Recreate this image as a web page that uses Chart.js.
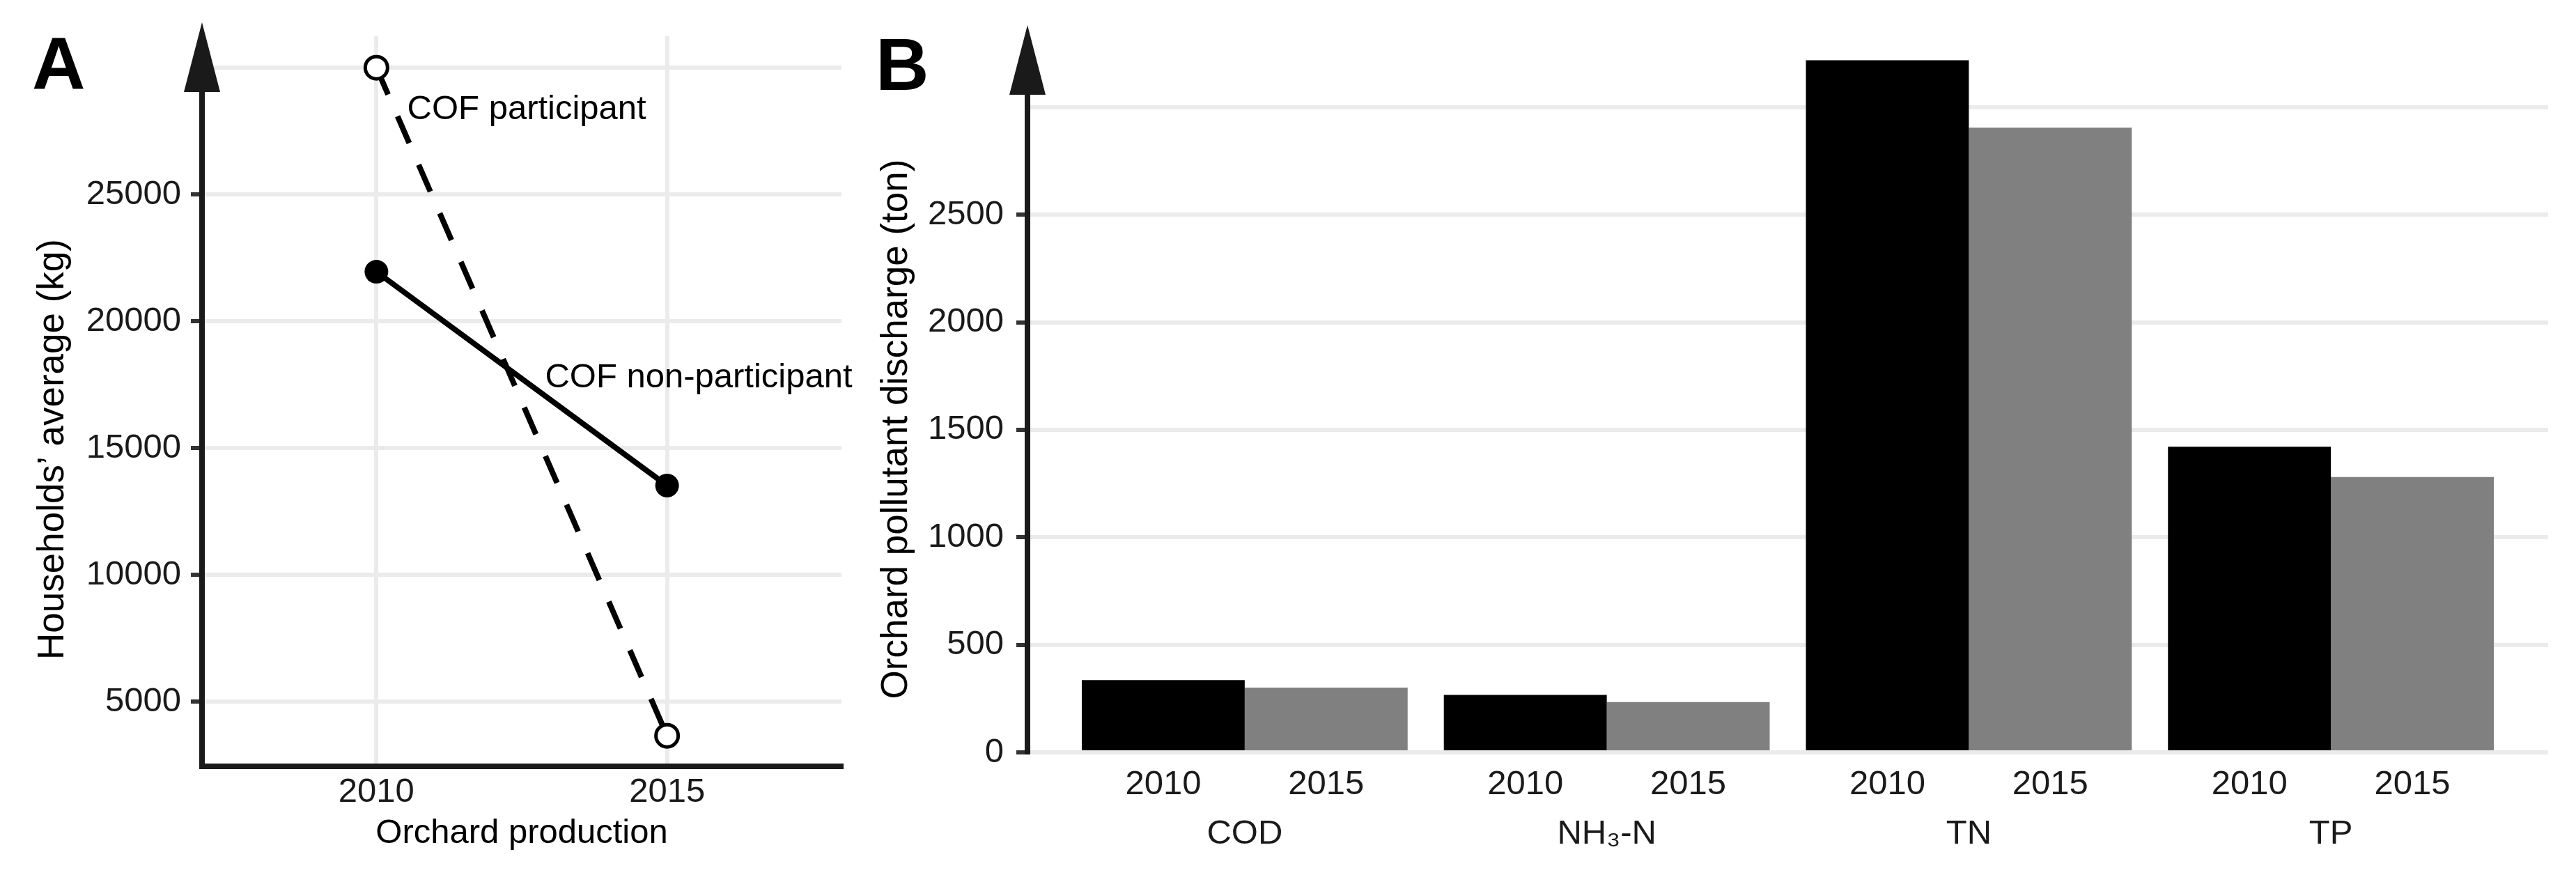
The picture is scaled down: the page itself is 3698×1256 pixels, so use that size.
<!DOCTYPE html>
<html>
<head>
<meta charset="utf-8">
<script src="https://cdn.jsdelivr.net/npm/chart.js@4.4.0/dist/chart.umd.min.js"></script>
<style>
  body { margin: 0; background: #fff; }
  #wrap { position: relative; width: 3698px; height: 1256px; background: #fff; }
  canvas { position: absolute; left: 0; top: 0; }
</style>
</head>
<body>
<div id="wrap">
  <canvas id="chartA" width="3698" height="1256"></canvas>
  <canvas id="chartB" width="3698" height="1256"></canvas>
</div>
<script>
// ---- panel A data ----
const years = [2010, 2015];
const cofParticipant = [30000, 3650];
const cofNonParticipant = [21950, 13520];
const yTicksA = [5000, 10000, 15000, 20000, 25000];
const yGridA = [5000, 10000, 15000, 20000, 25000, 30000];

// ---- panel B data ----
const pollutants = ["COD", "NH\u2083-N", "TN", "TP"];
const yearLabels = ["2010", "2015"];
const discharge2010 = [336, 267, 3218, 1421];
const discharge2015 = [301, 234, 2905, 1280];
const yTicksB = [0, 500, 1000, 1500, 2000, 2500];
const yGridB = [0, 500, 1000, 1500, 2000, 2500, 3000];

const FONT = "'Liberation Sans', Arial, Helvetica, sans-serif";
const GRID = "#ebebeb";
const INK = "#1a1a1a";

// axis line with arrow head, panel letter, rotated y title
const axisDecor = {
  id: "axisDecor",
  afterDraw(chart, args, opts) {
    const { ctx, chartArea } = chart;
    const x0 = chartArea.left;
    ctx.save();
    ctx.strokeStyle = INK;
    ctx.fillStyle = INK;
    ctx.lineWidth = 8;
    ctx.beginPath();
    ctx.moveTo(x0, chartArea.bottom + opts.below);
    ctx.lineTo(x0, opts.arrowTip + 90);
    ctx.stroke();
    ctx.beginPath();
    ctx.moveTo(x0, opts.arrowTip);
    ctx.lineTo(x0 - 26, opts.arrowTip + 100);
    ctx.lineTo(x0 + 26, opts.arrowTip + 100);
    ctx.closePath();
    ctx.fill();

    ctx.fillStyle = "#000";
    ctx.font = "bold 106px " + FONT;
    ctx.textAlign = "left";
    ctx.textBaseline = "alphabetic";
    ctx.fillText(opts.letter, opts.letterX, opts.letterY);

    ctx.translate(opts.titleX, opts.titleY);
    ctx.rotate(-Math.PI / 2);
    ctx.font = "53px " + FONT;
    ctx.textAlign = "center";
    ctx.textBaseline = "middle";
    ctx.fillText(opts.title, 0, 0);
    ctx.restore();
  }
};

// direct labels on the lines of panel A
const lineLabels = [
  { text: "COF participant", x: 2010.53, y: 28350 },
  { text: "COF non-participant", x: 2012.9, y: 17750 }
];
const lineLabelPlugin = {
  id: "lineLabelPlugin",
  afterDatasetsDraw(chart) {
    const { ctx, scales } = chart;
    ctx.save();
    ctx.font = "49px " + FONT;
    ctx.fillStyle = "#000";
    ctx.textAlign = "left";
    ctx.textBaseline = "middle";
    lineLabels.forEach(l => {
      ctx.fillText(l.text, scales.x.getPixelForValue(l.x), scales.y.getPixelForValue(l.y));
    });
    ctx.restore();
  }
};

const tickFont = { family: FONT, size: 49 };

new Chart(document.getElementById("chartA"), {
  type: "line",
  data: {
    datasets: [
      {
        label: "COF participant",
        data: years.map((yr, i) => ({ x: yr, y: cofParticipant[i] })),
        borderColor: "#000",
        borderWidth: 8,
        borderDash: [42, 34],
        pointRadius: 16,
        pointBorderWidth: 5,
        pointBackgroundColor: "#fff",
        pointBorderColor: "#000"
      },
      {
        label: "COF non-participant",
        data: years.map((yr, i) => ({ x: yr, y: cofNonParticipant[i] })),
        borderColor: "#000",
        borderWidth: 8,
        pointRadius: 17,
        pointBorderWidth: 0,
        pointBackgroundColor: "#000"
      }
    ]
  },
  options: {
    responsive: false,
    devicePixelRatio: 1,
    animation: false,
    layout: { padding: { left: 0, top: 52, right: 3698 - 1208, bottom: 0 } },
    plugins: {
      legend: { display: false },
      tooltip: { enabled: false },
      axisDecor: {
        below: 4, arrowTip: 32, letter: "A", letterX: 46, letterY: 128,
        title: "Households\u2019 average (kg)", titleX: 76, titleY: 645
      }
    },
    scales: {
      x: {
        type: "linear",
        min: 2007,
        max: 2018,
        afterBuildTicks: s => { s.ticks = years.map(v => ({ value: v })); },
        afterFit: s => { s.height = 156; },
        grid: { color: GRID, lineWidth: 6, drawTicks: false },
        border: { display: true, color: INK, width: 8 },
        ticks: { font: tickFont, color: INK, padding: 8, callback: v => String(v) },
        title: {
          display: true, text: "Orchard production", color: "#000",
          font: { family: FONT, size: 49 }, padding: { top: 0, bottom: 30 }
        }
      },
      y: {
        min: 2445,
        max: 31240,
        afterBuildTicks: s => { s.ticks = yGridA.map(v => ({ value: v })); },
        afterFit: s => { s.width = 290; },
        grid: {
          color: GRID, lineWidth: 6, tickLength: 16, tickWidth: 6,
          tickColor: c => yTicksA.includes(c.tick.value) ? "#333" : "rgba(0,0,0,0)"
        },
        border: { display: false },
        ticks: { font: tickFont, color: INK, padding: 14, callback: v => yTicksA.includes(v) ? String(v) : "" }
      }
    }
  },
  plugins: [axisDecor, lineLabelPlugin]
});

new Chart(document.getElementById("chartB"), {
  type: "bar",
  data: {
    datasets: [
      {
        label: "2010",
        data: pollutants.map((p, i) => ({ x: i, y: discharge2010[i] })),
        backgroundColor: "#000000",
        xAxisID: "x",
        yAxisID: "y",
        categoryPercentage: 0.9,
        barPercentage: 1.0
      },
      {
        label: "2015",
        data: pollutants.map((p, i) => ({ x: i, y: discharge2015[i] })),
        backgroundColor: "#808080",
        xAxisID: "x",
        yAxisID: "y",
        categoryPercentage: 0.9,
        barPercentage: 1.0
      }
    ]
  },
  options: {
    responsive: false,
    devicePixelRatio: 1,
    animation: false,
    layout: { padding: { left: 1300, top: 52, right: 3698 - 3658, bottom: 0 } },
    plugins: {
      legend: { display: false },
      tooltip: { enabled: false },
      axisDecor: {
        below: 3, arrowTip: 36, letter: "B", letterX: 1257, letterY: 129,
        title: "Orchard pollutant discharge (ton)", titleX: 1287, titleY: 616
      }
    },
    scales: {
      xYear: {
        type: "linear",
        position: "bottom",
        weight: 0,
        offset: false,
        min: -0.6,
        max: 3.6,
        afterBuildTicks: s => {
          const t = [];
          pollutants.forEach((p, i) => { t.push({ value: i - 0.225 }, { value: i + 0.225 }); });
          s.ticks = t;
        },
        afterFit: s => { s.height = 80; },
        grid: { display: false, drawTicks: false },
        border: { display: false },
        ticks: { font: tickFont, color: INK, padding: 17, callback: (v, i) => yearLabels[i % 2] }
      },
      x: {
        type: "linear",
        position: "bottom",
        weight: 1,
        offset: false,
        min: -0.6,
        max: 3.6,
        afterBuildTicks: s => { s.ticks = pollutants.map((p, i) => ({ value: i })); },
        afterFit: s => { s.height = 96; },
        grid: { display: false, drawTicks: false, offset: false },
        border: { display: false },
        ticks: { font: tickFont, color: INK, padding: 8, callback: (v, i) => pollutants[i] }
      },
      y: {
        min: 0,
        max: 3330,
        afterBuildTicks: s => { s.ticks = yGridB.map(v => ({ value: v })); },
        afterFit: s => { s.width = 175; },
        grid: {
          color: GRID, lineWidth: 6, tickLength: 16, tickWidth: 6,
          tickColor: c => yTicksB.includes(c.tick.value) ? "#333" : "rgba(0,0,0,0)"
        },
        border: { display: false },
        ticks: { font: tickFont, color: INK, padding: 18, callback: v => yTicksB.includes(v) ? String(v) : "" }
      }
    }
  },
  plugins: [axisDecor]
});
</script>
</body>
</html>
